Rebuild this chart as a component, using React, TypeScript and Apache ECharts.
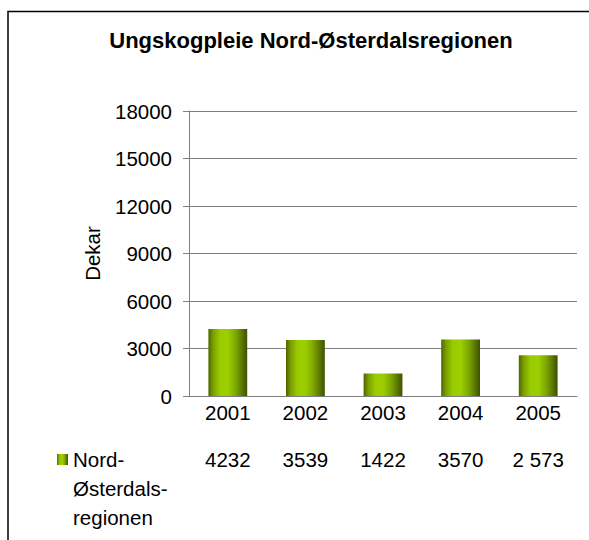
import React, { useEffect, useRef } from "react";
import * as echarts from "echarts";

const categories = ["2001", "2002", "2003", "2004", "2005"];
const values = [4232, 3539, 1422, 3570, 2573];
const valueLabels = ["4232", "3539", "1422", "3570", "2 573"];
const seriesName = "Nord-Østerdalsregionen";
const legendLines = ["Nord-", "Østerdals-", "regionen"];
const yTicks = { min: 0, max: 18000, interval: 3000 };

const FONT = "'Liberation Sans', Arial, sans-serif";
const FS = 20.5;

export default function App() {
  const ref = useRef<HTMLDivElement>(null);
  useEffect(() => {
    const chart = echarts.init(ref.current!, null, { renderer: "svg" });
    const barGrad = new echarts.graphic.LinearGradient(0, 0, 1, 0, [
      { offset: 0, color: "#4d6400" },
      { offset: 0.12, color: "#7a9e00" },
      { offset: 0.3, color: "#9acb00" },
      { offset: 0.5, color: "#9ccf00" },
      { offset: 0.7, color: "#7fa800" },
      { offset: 0.88, color: "#587400" },
      { offset: 1, color: "#3e5000" },
    ]);
    chart.setOption({
      animation: false,
      textStyle: { fontFamily: FONT },
      title: {
        text: "Ungskogpleie Nord-Østerdalsregionen",
        left: 306,
        textAlign: "center",
        top: 24,
        textStyle: { fontFamily: FONT, fontSize: 22, fontWeight: "bold", color: "#000" },
      },
      grid: { left: 189, right: 12, top: 111, bottom: 144, containLabel: false },
      legend: {
        left: 57,
        top: 387,
        padding: 0,
        itemWidth: 11,
        itemHeight: 11,
        icon: "rect",
        data: [seriesName],
        formatter: () => "\n\n" + legendLines.join("\n"),
        textStyle: {
          fontFamily: FONT,
          fontSize: FS,
          color: "#000",
          lineHeight: 29,
        },
      },
      xAxis: [
        {
          type: "category",
          data: categories,
          axisLine: { lineStyle: { color: "#808080", width: 1 } },
          axisTick: { show: false },
          axisLabel: { fontFamily: FONT, fontSize: FS, color: "#000", margin: 6 },
        },
        {
          type: "category",
          data: valueLabels,
          position: "bottom",
          offset: 51,
          axisLine: { show: false },
          axisTick: { show: false },
          axisLabel: { fontFamily: FONT, fontSize: FS, color: "#000", margin: 2 },
        },
      ],
      yAxis: {
        type: "value",
        min: yTicks.min,
        max: yTicks.max,
        interval: yTicks.interval,
        name: "Dekar",
        nameLocation: "middle",
        nameGap: 86,
        nameTextStyle: { fontFamily: FONT, fontSize: FS, color: "#000" },
        axisLine: { show: true, lineStyle: { color: "#808080", width: 1 } },
        axisTick: { show: true, length: 6, lineStyle: { color: "#808080" } },
        axisLabel: {
          fontFamily: FONT,
          fontSize: FS,
          color: "#000",
          margin: 17,
          formatter: (v: number) => String(v),
        },
        splitLine: { lineStyle: { color: "#808080", width: 1 } },
      },
      series: [
        {
          name: seriesName,
          type: "bar",
          xAxisIndex: 0,
          data: values,
          barWidth: "50%",
          itemStyle: { color: barGrad },
        },
      ],
      graphic: [
        {
          type: "rect",
          shape: { x: 8, y: 11.5, width: 620, height: 620 },
          style: { fill: "none", stroke: "#000", lineWidth: 1.5 },
          silent: true,
        },
      ],
    });
    return () => chart.dispose();
  }, []);
  return (
    <div
      ref={ref}
      style={{ position: "fixed", left: 0, top: 0, width: 589, height: 540, background: "#fff" }}
    />
  );
}
